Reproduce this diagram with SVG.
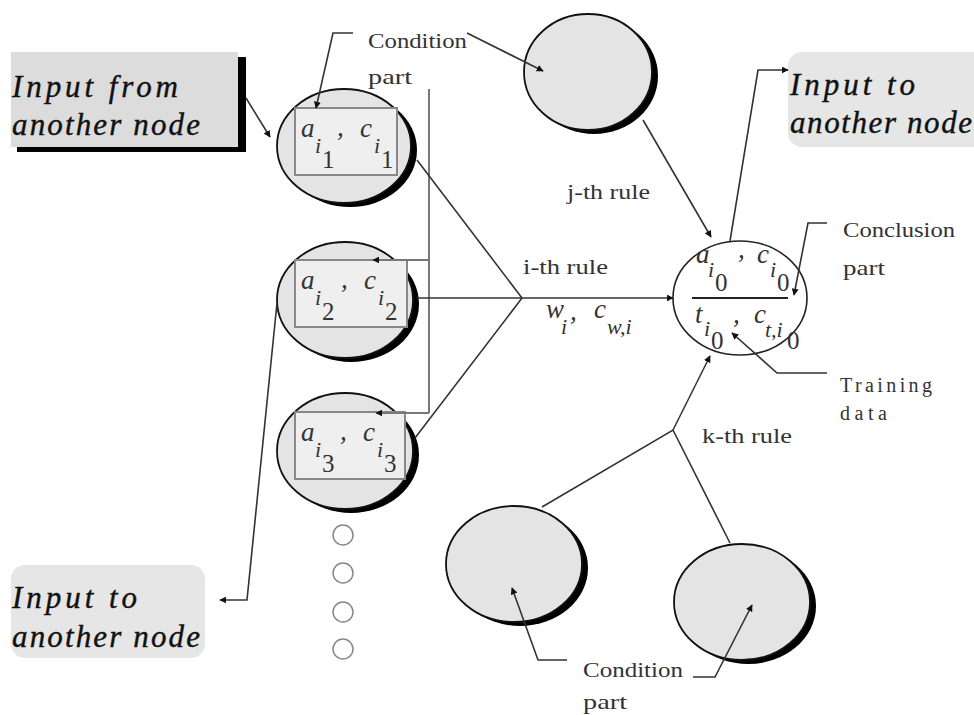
<svg xmlns="http://www.w3.org/2000/svg" width="974" height="715" viewBox="0 0 974 715">
  <style>
    .io { font-family: "Liberation Serif", serif; font-style: italic; font-size: 31px; fill: #111; stroke: #111; stroke-width: 0.4; }
    .lbl { font-family: "Liberation Serif", serif; font-size: 21px; fill: #333; }
    .mono { font-family: "Liberation Serif", serif; font-size: 20px; fill: #333; }
    .var { font-family: "Liberation Serif", serif; font-style: italic; font-size: 27px; fill: #333; }
    .sub { font-family: "Liberation Serif", serif; font-style: italic; font-size: 22px; fill: #333; }
    .dig { font-family: "Liberation Serif", serif; font-size: 25px; fill: #333; }
    .cell { fill: #e4e4e4; stroke: #111; stroke-width: 1.8; }
    .shadow { fill: #000; }
    .inner { fill: #efefef; stroke: #888; stroke-width: 2; }
    .wire { fill: none; stroke: #333; stroke-width: 1.6; }
    .rail { fill: none; stroke: #777; stroke-width: 2; }
    .dot { fill: #fff; stroke: #888; stroke-width: 1.5; }
  </style>
  <defs>
    <marker id="arr" viewBox="0 0 10 10" refX="9" refY="5" markerWidth="7" markerHeight="7" orient="auto" markerUnits="userSpaceOnUse">
      <path d="M0,0 L10,5 L0,10 z" fill="#111"/>
    </marker>
  </defs>

  <!-- source box -->
  <g id="input-from">
    <rect x="17" y="57" width="229" height="95" class="shadow"/>
    <rect x="11" y="52" width="227" height="95" fill="#dcdcdc"/>
    <text x="12" y="97" class="io" textLength="166" lengthAdjust="spacing">Input from</text>
    <text x="12" y="135" class="io" textLength="188" lengthAdjust="spacing">another node</text>
  </g>

  <!-- output boxes -->
  <g id="output-top">
    <rect x="788" y="52" width="200" height="95" rx="14" fill="#e6e6e6"/>
    <text x="790" y="95" class="io" textLength="125" lengthAdjust="spacing">Input to</text>
    <text x="790" y="133" class="io" textLength="182" lengthAdjust="spacing">another node</text>
  </g>
  <g id="output-left">
    <rect x="11" y="565" width="194" height="93" rx="14" fill="#e6e6e6"/>
    <text x="12" y="608" class="io" textLength="125" lengthAdjust="spacing">Input to</text>
    <text x="12" y="647" class="io" textLength="188" lengthAdjust="spacing">another node</text>
  </g>

  <!-- i-th rule condition cells -->
  <g id="cond-1">
    <ellipse cx="350" cy="150" rx="67" ry="57" class="shadow"/>
    <ellipse cx="344" cy="146" rx="67" ry="57" class="cell"/>
    <rect x="295" y="108" width="102" height="67" class="inner"/>
    <text x="301" y="137" class="var">a</text><text x="315" y="153" class="sub">i</text><text x="322" y="168" class="dig">1</text>
    <text x="337" y="136" class="var">,</text>
    <text x="360" y="137" class="var">c</text><text x="374" y="153" class="sub">i</text><text x="381" y="168" class="dig">1</text>
  </g>
  <g id="cond-2">
    <ellipse cx="351" cy="304" rx="68" ry="58" class="shadow"/>
    <ellipse cx="345" cy="300" rx="68" ry="58" class="cell"/>
    <rect x="295" y="260" width="112" height="67" class="inner"/>
    <text x="301" y="289" class="var">a</text><text x="315" y="305" class="sub">i</text><text x="322" y="320" class="dig">2</text>
    <text x="341" y="288" class="var">,</text>
    <text x="364" y="289" class="var">c</text><text x="378" y="305" class="sub">i</text><text x="385" y="320" class="dig">2</text>
  </g>
  <g id="cond-3">
    <ellipse cx="351" cy="455" rx="68" ry="58" class="shadow"/>
    <ellipse cx="345" cy="451" rx="68" ry="58" class="cell"/>
    <rect x="295" y="412" width="110" height="67" class="inner"/>
    <text x="301" y="441" class="var">a</text><text x="315" y="457" class="sub">i</text><text x="322" y="472" class="dig">3</text>
    <text x="340" y="440" class="var">,</text>
    <text x="363" y="441" class="var">c</text><text x="377" y="457" class="sub">i</text><text x="384" y="472" class="dig">3</text>
  </g>
  <g id="more-cells">
    <circle cx="343" cy="535" r="10" class="dot"/>
    <circle cx="343" cy="573" r="10" class="dot"/>
    <circle cx="343" cy="612" r="10" class="dot"/>
    <circle cx="343" cy="649" r="10" class="dot"/>
  </g>

  <!-- j-th and k-th rule condition cells -->
  <g id="cond-j">
    <ellipse cx="594" cy="76" rx="64" ry="58" class="shadow"/>
    <ellipse cx="588" cy="72" rx="64" ry="58" class="cell"/>
  </g>
  <g id="cond-k1">
    <ellipse cx="520" cy="568" rx="68" ry="58" class="shadow"/>
    <ellipse cx="514" cy="564" rx="68" ry="58" class="cell"/>
  </g>
  <g id="cond-k2">
    <ellipse cx="748" cy="606" rx="68" ry="58" class="shadow"/>
    <ellipse cx="742" cy="602" rx="68" ry="58" class="cell"/>
  </g>

  <!-- conclusion cell -->
  <g id="conclusion">
    <ellipse cx="740" cy="298" rx="67" ry="57" fill="#fff" stroke="#222" stroke-width="1.6"/>
    <line x1="692" y1="298" x2="788" y2="298" stroke="#222" stroke-width="1.8"/>
    <text x="696" y="263" class="var" font-size="23">a</text><text x="708" y="277" class="sub" font-size="19">i</text><text x="715" y="291" class="dig" font-size="23">0</text>
    <text x="738" y="258" class="var" font-size="23">,</text>
    <text x="757" y="263" class="var" font-size="23">c</text><text x="770" y="277" class="sub" font-size="19">i</text><text x="777" y="291" class="dig" font-size="23">0</text>
    <text x="695" y="323" class="var" font-size="23">t</text><text x="704" y="336" class="sub" font-size="19">i</text><text x="711" y="349" class="dig" font-size="23">0</text>
    <text x="733" y="323" class="var" font-size="23">,</text>
    <text x="754" y="323" class="var" font-size="23">c</text><text x="765" y="337" class="sub" font-size="17">t,i</text><text x="787" y="349" class="dig" font-size="23">0</text>
  </g>

  <!-- labels -->
  <g id="labels">
    <text x="368" y="48" class="lbl" textLength="99" lengthAdjust="spacingAndGlyphs">Condition</text>
    <text x="368" y="84" class="lbl" textLength="44" lengthAdjust="spacingAndGlyphs">part</text>
    <text x="567" y="199" class="lbl" textLength="83" lengthAdjust="spacingAndGlyphs">j-th rule</text>
    <text x="523" y="274" class="lbl" textLength="85" lengthAdjust="spacingAndGlyphs">i-th rule</text>
    <text x="546" y="318" class="var" font-size="22">w</text><text x="561" y="334" class="sub" font-size="18">i</text>
    <text x="570" y="320" class="var" font-size="22">,</text>
    <text x="594" y="318" class="var" font-size="22">c</text><text x="607" y="334" class="sub" font-size="18">w,i</text>
    <text x="843" y="237" class="lbl" textLength="112" lengthAdjust="spacingAndGlyphs">Conclusion</text>
    <text x="843" y="275" class="lbl" textLength="42" lengthAdjust="spacingAndGlyphs">part</text>
    <text x="840" y="392" class="mono" textLength="92" lengthAdjust="spacing">Training</text>
    <text x="840" y="420" class="mono" textLength="47" lengthAdjust="spacing">data</text>
    <text x="702" y="443" class="lbl" textLength="90" lengthAdjust="spacingAndGlyphs">k-th rule</text>
    <text x="583" y="677" class="lbl" textLength="100" lengthAdjust="spacingAndGlyphs">Condition</text>
    <text x="583" y="709" class="lbl" textLength="44" lengthAdjust="spacingAndGlyphs">part</text>
  </g>

  <!-- connectors -->
  <g id="connectors">
    <line x1="246" y1="98" x2="270" y2="137" class="wire" marker-end="url(#arr)"/>
    <polyline points="353,33 333,33 316,108" class="wire" marker-end="url(#arr)"/>
    <line x1="467" y1="33" x2="543" y2="71" class="wire" marker-end="url(#arr)"/>
    <line x1="429" y1="89" x2="429" y2="413" class="rail"/>
    <polyline points="429,260 373,260" class="rail" marker-end="url(#arr)"/>
    <polyline points="429,413 376,413" class="rail" marker-end="url(#arr)"/>
    <polyline points="417,160 522,298 415,438" class="wire"/>
    <line x1="417" y1="298" x2="522" y2="298" class="wire"/>
    <line x1="522" y1="298" x2="673" y2="298" class="wire" marker-end="url(#arr)"/>
    <line x1="643" y1="120" x2="711" y2="237" class="wire" marker-end="url(#arr)"/>
    <polyline points="730,241 758,70 788,70" class="wire" marker-end="url(#arr)"/>
    <polyline points="827,223 808,223 794,295" class="wire" marker-end="url(#arr)"/>
    <polyline points="827,373 777,373 732,333" class="wire" marker-end="url(#arr)"/>
    <polyline points="542,507 673,430 730,543" class="wire"/>
    <line x1="673" y1="430" x2="710" y2="356" class="wire" marker-end="url(#arr)"/>
    <polyline points="567,660 538,660 512,588" class="wire" marker-end="url(#arr)"/>
    <polyline points="693,677 715,677 752,605" class="wire" marker-end="url(#arr)"/>
    <polyline points="277,303 247,600 220,600" class="wire" marker-end="url(#arr)"/>
  </g>
</svg>
